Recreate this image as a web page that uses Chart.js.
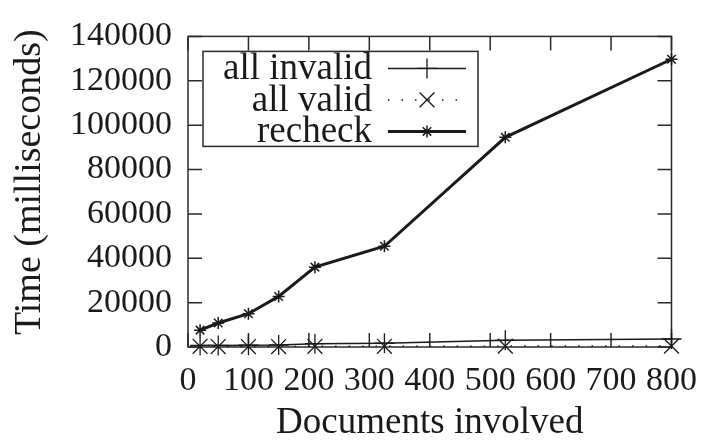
<!DOCTYPE html>
<html><head><meta charset="utf-8">
<script src="https://cdn.jsdelivr.net/npm/chart.js@4/dist/chart.umd.min.js"></script>
<style>html,body{margin:0;padding:0;background:#fff}#c{display:block}</style>
</head><body>
<canvas id="c" width="711" height="443"></canvas>
<script>
// ---- data ----
const documents  = [20, 50, 100, 150, 210, 325, 525, 800];
const allInvalid = [700, 700, 800, 900, 1500, 1700, 3000, 3600];
const allValid   = [300, 200, 200, 200, 300, 300, 400, 400];
const recheck    = [7600, 10800, 15000, 22800, 36000, 45400, 94500, 129700];
const seriesNames = ['all invalid', 'all valid', 'recheck'];
const xTickValues = [0, 100, 200, 300, 400, 500, 600, 700, 800];
const yTickValues = [0, 20000, 40000, 60000, 80000, 100000, 120000, 140000];
const xTitle = 'Documents involved';
const yTitle = 'Time (milliseconds)';

const FONT = "Liberation Serif";
const INK = '#1a1a1a';

function pts(vals){ return documents.map((d,i)=>({x:d, y:vals[i]})); }

function drawMarker(ctx, style, r, x, y){
  ctx.beginPath();
  if (style === 'cross' || style === 'star'){
    ctx.moveTo(x, y-r); ctx.lineTo(x, y+r);
    ctx.moveTo(x-r, y); ctx.lineTo(x+r, y);
  }
  if (style === 'crossRot' || style === 'star'){
    const o = Math.cos(Math.PI/4)*r;
    ctx.moveTo(x-o, y-o); ctx.lineTo(x+o, y+o);
    ctx.moveTo(x-o, y+o); ctx.lineTo(x+o, y-o);
  }
  ctx.stroke();
}

const framePlugin = {
  id: 'frame',
  beforeDatasetsDraw(chart){
    const {ctx, chartArea:a, scales:{x, y}} = chart;
    const L = 14;
    ctx.save();
    ctx.strokeStyle = '#2a2a2a';
    ctx.lineWidth = 1.5;
    ctx.beginPath();
    x.ticks.forEach(t=>{
      const px = x.getPixelForValue(t.value);
      ctx.moveTo(px, a.bottom); ctx.lineTo(px, a.bottom - L);
      ctx.moveTo(px, a.top); ctx.lineTo(px, a.top + L);
    });
    y.ticks.forEach(t=>{
      const py = y.getPixelForValue(t.value);
      ctx.moveTo(a.left, py); ctx.lineTo(a.left + L, py);
      ctx.moveTo(a.right, py); ctx.lineTo(a.right - L, py);
    });
    ctx.stroke();
    ctx.strokeRect(a.left, a.top, a.right - a.left, a.bottom - a.top);
    ctx.restore();
  }
};

const legendPlugin = {
  id: 'gpLegend',
  afterDraw(chart){
    const {ctx, chartArea:a} = chart;
    const bx = a.left + 15, by = a.top + 15, bw = 275, bh = 95;
    ctx.save();
    ctx.fillStyle = '#fff';
    ctx.fillRect(bx, by, bw, bh);
    ctx.strokeStyle = '#2a2a2a';
    ctx.lineWidth = 1.5;
    ctx.strokeRect(bx, by, bw, bh);
    chart.data.datasets.forEach((ds, i)=>{
      const cy = by + 17 + i*31.5;
      ctx.fillStyle = INK;
      ctx.font = '37px ' + FONT;
      ctx.textAlign = 'right';
      ctx.textBaseline = 'alphabetic';
      ctx.fillText(ds.label, bx + 169, cy + 11);
      ctx.strokeStyle = ds.borderColor;
      ctx.lineWidth = ds.borderWidth;
      ctx.setLineDash(ds.borderDash || []);
      ctx.beginPath();
      ctx.moveTo(bx + 185, cy); ctx.lineTo(bx + 263, cy);
      ctx.stroke();
      ctx.setLineDash([]);
      ctx.lineWidth = ds.pointBorderWidth;
      drawMarker(ctx, ds.pointStyle, ds.pointRadius, bx + 224, cy);
    });
    ctx.restore();
  }
};

Chart.defaults.font.family = FONT;
Chart.defaults.color = INK;

new Chart(document.getElementById('c'), {
  type: 'line',
  data: {
    datasets: [
      { label: seriesNames[0], data: pts(allInvalid), borderColor: INK, borderWidth: 1.5,
        pointStyle: 'cross', pointRadius: 10, pointBorderWidth: 1.3, pointBorderColor: INK,
        fill: false, tension: 0, clip: false },
      { label: seriesNames[1], data: pts(allValid), borderColor: INK, borderWidth: 1.5, borderDash: [1.5, 12],
        pointStyle: 'crossRot', pointRadius: 10.5, pointBorderWidth: 1.3, pointBorderColor: INK,
        fill: false, tension: 0, clip: false },
      { label: seriesNames[2], data: pts(recheck), borderColor: INK, borderWidth: 3,
        pointStyle: 'star', pointRadius: 6, pointBorderWidth: 1.5, pointBorderColor: INK,
        fill: false, tension: 0, clip: false }
    ]
  },
  options: {
    responsive: false,
    animation: false,
    events: [],
    layout: { padding: { top: 24, right: 27, left: 0, bottom: 0 } },
    plugins: { legend: { display: false }, tooltip: { enabled: false } },
    scales: {
      x: {
        type: 'linear', min: 0, max: 800,
        afterBuildTicks: s => { s.ticks = xTickValues.map(v=>({value:v})); },
        afterFit: s => { s.height = 96; },
        grid: { display: true, drawOnChartArea: false, drawTicks: false },
        border: { display: false },
        ticks: { padding: 14, font: { size: 34, family: FONT }, color: INK, maxRotation: 0, autoSkip: false },
        title: { display: true, text: xTitle, font: { size: 37, lineHeight: 1, family: FONT }, color: INK,
                 padding: { top: 0, bottom: 1 } }
      },
      y: {
        type: 'linear', min: 0, max: 140000,
        afterBuildTicks: s => { s.ticks = yTickValues.map(v=>({value:v})); },
        afterFit: s => { s.width = 188; },
        grid: { display: true, drawOnChartArea: false, drawTicks: false },
        border: { display: false },
        ticks: { padding: 16, font: { size: 34, family: FONT }, color: INK, autoSkip: false,
                 callback: v => String(v) },
        title: { display: true, text: '  ' + yTitle, font: { size: 38, lineHeight: 1, family: FONT }, color: INK,
                 padding: { top: 11, bottom: 0 } }
      }
    }
  },
  plugins: [framePlugin, legendPlugin]
});
</script>
</body></html>
